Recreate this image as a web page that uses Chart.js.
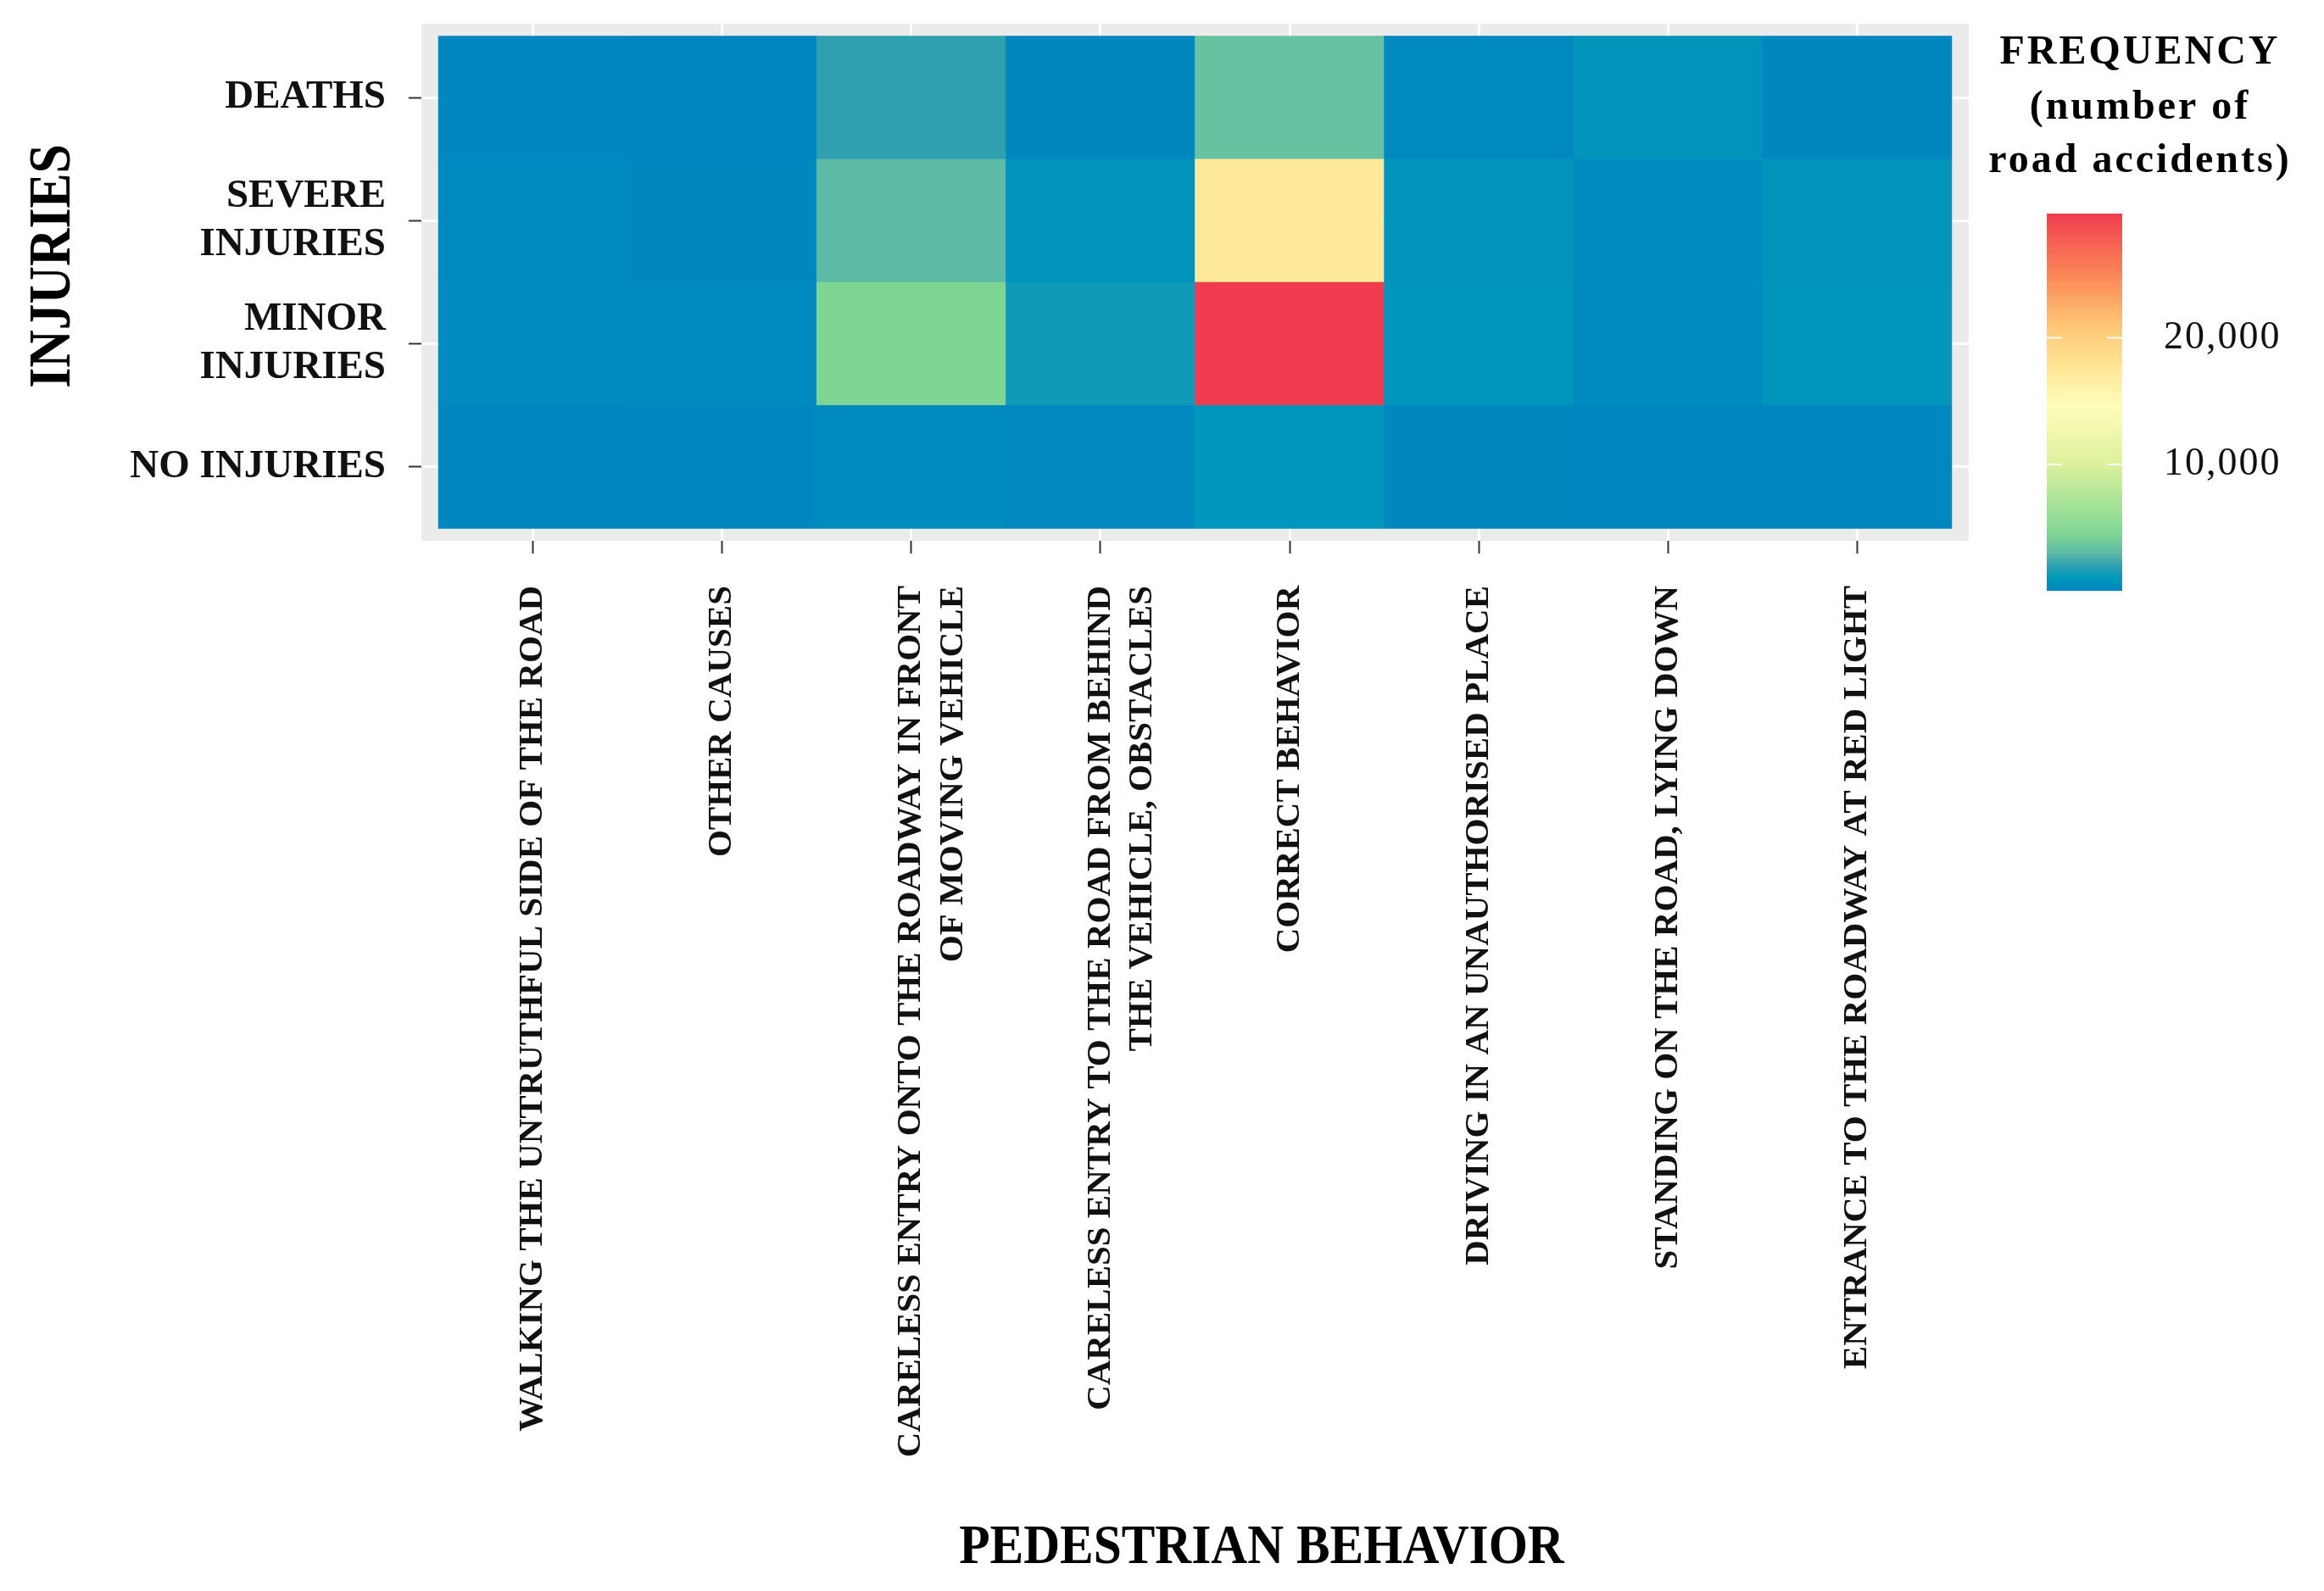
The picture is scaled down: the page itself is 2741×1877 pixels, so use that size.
<!DOCTYPE html>
<html>
<head>
<meta charset="utf-8">
<title>Pedestrian behavior and injuries</title>
<script src="https://cdn.jsdelivr.net/npm/chart.js@4.4.1/dist/chart.umd.min.js"></script>
<style>
  html, body { margin: 0; padding: 0; background: #fff; }
  canvas { display: block; }
</style>
</head>
<body>
<canvas id="heatChart" width="2741" height="1877"></canvas>
<script>
// x categories (pedestrian behaviour), long ones split on two lines
const behaviors = [
  'WALKING THE UNTRUTHFUL SIDE OF THE ROAD',
  'OTHER CAUSES',
  ['CARELESS ENTRY ONTO THE ROADWAY IN FRONT', 'OF MOVING VEHICLE'],
  ['CARELESS ENTRY TO THE ROAD FROM BEHIND', 'THE VEHICLE, OBSTACLES'],
  'CORRECT BEHAVIOR',
  'DRIVING IN AN UNAUTHORISED PLACE',
  'STANDING ON THE ROAD, LYING DOWN',
  'ENTRANCE TO THE ROADWAY AT RED LIGHT'
];

// y categories, top to bottom
const injuryLevels = ['DEATHS', ['SEVERE', 'INJURIES'], ['MINOR', 'INJURIES'], 'NO INJURIES'];

// number of road accidents per behaviour
const deaths         = [100, 30, 2000, 150, 3450, 200, 750, 150];
const severeInjuries = [200, 150, 3000, 750, 17200, 750, 300, 750];
const minorInjuries  = [250, 200, 4500, 1350, 29800, 850, 300, 850];
const noInjuries     = [100, 60, 250, 120, 900, 150, 100, 100];

const legendTicks = [10000, 20000];

// colour ramp, position along the value range -> colour
const palette = [
  [0, '#0086BF'], [0.034, '#0099BA'], [0.067, '#2FA0B0'], [0.10, '#5CBAA5'],
  [0.15, '#7ED694'], [0.235, '#A8E398'], [0.335, '#DCF09C'], [0.49, '#FFFDBB'],
  [0.60, '#FFE592'], [0.70, '#FEC876'], [0.82, '#FB8F58'], [1, '#F03C4E']
];

const allValues = [].concat(deaths, severeInjuries, minorInjuries, noInjuries);
const vMin = Math.min(...allValues);
const vMax = Math.max(...allValues);

function hexToRgb(h) {
  const n = parseInt(h.slice(1), 16);
  return [(n >> 16) & 255, (n >> 8) & 255, n & 255];
}

function colorFor(v) {
  const t = Math.max(0, Math.min(1, (v - vMin) / (vMax - vMin)));
  for (let i = 1; i < palette.length; i++) {
    if (t <= palette[i][0]) {
      const [p0, c0] = palette[i - 1];
      const [p1, c1] = palette[i];
      const f = (t - p0) / (p1 - p0);
      const a = hexToRgb(c0), b = hexToRgb(c1);
      return 'rgb(' + a.map((x, k) => Math.round(x + (b[k] - x) * f)).join(',') + ')';
    }
  }
  return palette[palette.length - 1][1];
}

// stacked from the bottom row up
const rows = [
  { label: 'NO INJURIES', values: noInjuries },
  { label: 'MINOR INJURIES', values: minorInjuries },
  { label: 'SEVERE INJURIES', values: severeInjuries },
  { label: 'DEATHS', values: deaths }
];

const serif = "'Liberation Serif', 'Times New Roman', serif";

const panelBg = {
  id: 'panelBg',
  beforeDraw(chart) {
    const { ctx, chartArea: a } = chart;
    ctx.save();
    ctx.fillStyle = '#EBEBEB';
    ctx.fillRect(a.left, a.top, a.right - a.left, a.bottom - a.top);
    ctx.restore();
  }
};

// axis titles and the colourbar legend
const extras = {
  id: 'extras',
  afterDraw(chart) {
    const { ctx } = chart;
    ctx.save();
    ctx.fillStyle = '#000';

    // x title
    ctx.font = 'bold 66px ' + serif;
    ctx.textAlign = 'center';
    ctx.textBaseline = 'alphabetic';
    ctx.save();
    ctx.translate(1488, 1844);
    ctx.scale(0.9, 1);
    ctx.fillText('PEDESTRIAN BEHAVIOR', 0, 0);
    ctx.restore();

    // y title
    ctx.save();
    ctx.font = 'bold 70px ' + serif;
    ctx.translate(82, 314);
    ctx.rotate(-Math.PI / 2);
    ctx.scale(0.88, 1);
    ctx.fillText('INJURIES', 0, 0);
    ctx.restore();

    // legend title
    ctx.font = 'bold 48px ' + serif;
    ctx.letterSpacing = '3px';
    ctx.fillText('FREQUENCY', 2524, 75);
    ctx.fillText('(number of', 2524, 140);
    ctx.fillText('road accidents)', 2524, 203);
    ctx.letterSpacing = '0px';

    // colourbar
    const x0 = 2414, x1 = 2503, top = 252, bottom = 697;
    const grad = ctx.createLinearGradient(0, bottom, 0, top);
    palette.forEach(([p, c]) => grad.addColorStop(p, c));
    ctx.fillStyle = grad;
    ctx.fillRect(x0, top, x1 - x0, bottom - top);

    ctx.font = '46px ' + serif;
    ctx.letterSpacing = '2px';
    ctx.textAlign = 'left';
    ctx.textBaseline = 'middle';
    legendTicks.forEach(v => {
      const y = bottom - (v - vMin) / (vMax - vMin) * (bottom - top);
      ctx.strokeStyle = 'rgba(255,255,255,0.9)';
      ctx.lineWidth = 2;
      ctx.beginPath();
      ctx.moveTo(x0, y); ctx.lineTo(x0 + 18, y);
      ctx.moveTo(x1 - 18, y); ctx.lineTo(x1, y);
      ctx.stroke();
      ctx.fillStyle = '#111';
      ctx.fillText(v.toLocaleString('en-US'), 2552, y);
    });
    ctx.restore();
  }
};

new Chart(document.getElementById('heatChart'), {
  type: 'bar',
  data: {
    datasets: rows.map(r => ({
      label: r.label,
      data: r.values.map((v, i) => ({ x: i, y: 1, count: v })),
      backgroundColor: r.values.map(colorFor),
      borderWidth: 0,
      barPercentage: 1,
      categoryPercentage: 1
    }))
  },
  options: {
    responsive: false,
    animation: false,
    devicePixelRatio: 1,
    layout: { padding: { left: 0, top: 28, right: 419, bottom: 0 } },
    plugins: {
      legend: { display: false },
      tooltip: {
        callbacks: {
          title: items => [].concat(behaviors[items[0].raw.x]).join(' '),
          label: item => item.dataset.label + ': ' + item.raw.count.toLocaleString('en-US')
        }
      }
    },
    scales: {
      x: {
        type: 'linear',
        stacked: true,
        offset: false,
        min: -0.59,
        max: 7.59,
        afterBuildTicks: s => { s.ticks = behaviors.map((_, i) => ({ value: i })); },
        afterFit: s => {
          s.height = 1877 - 638;
          s.paddingLeft = 0; s.paddingRight = 0;
        },
        grid: { offset: false, color: '#fff', lineWidth: 3, tickColor: '#333', tickWidth: 2, tickLength: 15 },
        border: { display: false },
        ticks: {
          autoSkip: false,
          minRotation: 90,
          maxRotation: 90,
          padding: 38,
          color: '#111',
          font: { family: serif, size: 41, weight: 'bold', lineHeight: 1.2 },
          callback: v => behaviors[v]
        }
      },
      y: {
        type: 'linear',
        stacked: true,
        min: -0.1,
        max: 4.1,
        afterBuildTicks: s => { s.ticks = [0.5, 1.5, 2.5, 3.5].map(v => ({ value: v })); },
        afterFit: s => {
          s.width = 497;
          s.paddingTop = 0; s.paddingBottom = 0;
        },
        grid: { color: '#fff', lineWidth: 3, tickColor: '#333', tickWidth: 2, tickLength: 15 },
        border: { display: false },
        ticks: {
          padding: 27,
          color: '#111',
          font: { family: serif, size: 47, weight: 'bold', lineHeight: 1.22 },
          callback: v => injuryLevels[3 - Math.floor(v)]
        }
      }
    }
  },
  plugins: [panelBg, extras]
});
</script>
</body>
</html>
